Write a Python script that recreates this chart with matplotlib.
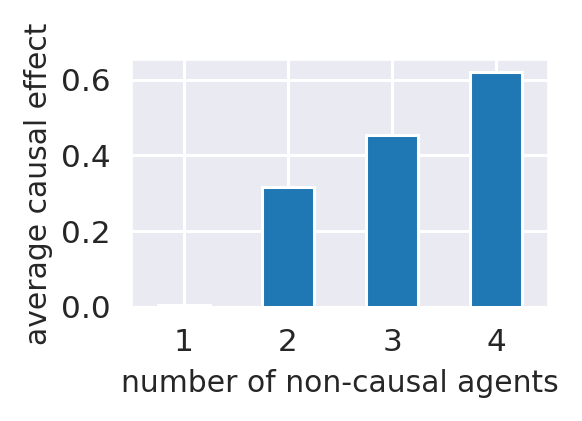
import matplotlib
matplotlib.use("Agg")
import matplotlib.pyplot as plt
import seaborn as sns

agents = ["1", "2", "3", "4"]
effect = [0.005, 0.317, 0.455, 0.619]

sns.set_theme(style="darkgrid")
plt.rcParams["font.family"] = ["DejaVu Sans"]
plt.rcParams["grid.linewidth"] = 2.2

fig = plt.figure(figsize=(5.82, 4.21), dpi=100)
ax = fig.add_axes([0.2263, 0.2708, 0.7157, 0.5867])

pos = list(range(len(agents)))
ax.bar(pos, effect, width=0.5, color="#1f77b4", edgecolor="white", linewidth=2.2)
ax.set_xlim(-0.5, len(agents) - 0.5)
ax.set_ylim(0, max(effect) * 1.053)
ax.set_xticks(pos)
ax.set_xticklabels(agents)
ax.set_yticks([0.0, 0.2, 0.4, 0.6])
ax.tick_params(axis="both", labelsize=22.4, length=0, pad=15)
ax.set_xlabel("number of non-causal agents", fontsize=21.4, labelpad=8.5)
ax.set_ylabel("average causal effect", fontsize=21.4, labelpad=6)

fig.savefig("out.png", dpi=100)
